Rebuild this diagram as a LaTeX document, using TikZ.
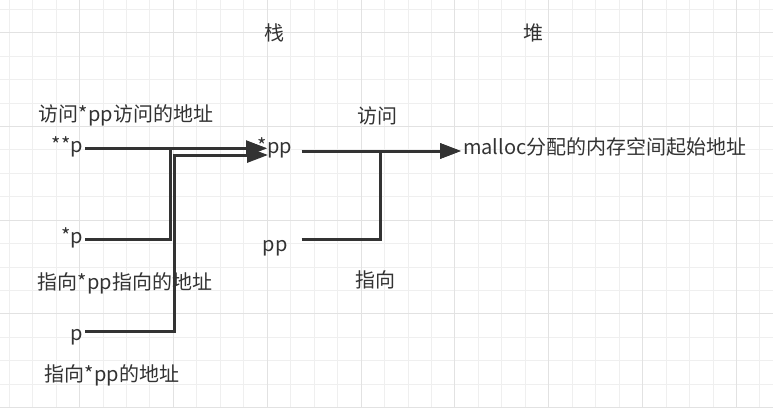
\documentclass[tikz,border=0pt]{standalone}
\usepackage{fontspec}
\setmainfont{Noto Sans CJK SC}
\usetikzlibrary{arrows.meta, positioning}
\definecolor{ink}{HTML}{333333}
\definecolor{gridminor}{HTML}{EFEFEF}
\definecolor{gridmajor}{HTML}{E2E2E2}

\begin{document}
\begin{tikzpicture}[x=1pt, y=-1pt,
		every node/.style={font=\fontsize{20}{24}\selectfont, text=ink, inner sep=2pt},
		ptr/.style={minimum width=53pt},
		wire/.style={line width=3pt, draw=ink, -{Triangle[length=21pt, width=15pt]}}]
				\useasboundingbox[fill=white] (0,0) rectangle (773,408);

				\foreach \i in {0,...,33}
				\draw[gridminor, line width=1pt] ({9.2+23.46*\i},0) -- ({9.2+23.46*\i},408);
				\foreach \j in {0,...,17}
				\draw[gridminor, line width=1pt] (0,{9.3+23.43*\j}) -- (773,{9.3+23.43*\j});
				\foreach \i in {3,7,...,31}
				\draw[gridmajor, line width=1pt] ({9.2+23.46*\i},0) -- ({9.2+23.46*\i},408);
				\foreach \j in {1,5,...,17}
				\draw[gridmajor, line width=1pt] (0,{9.3+23.43*\j}) -- (773,{9.3+23.43*\j});

				\node (stack) at (274,33) {栈};
				\node (heap) at (533,33) {堆};

				\node[anchor=east] (dp) at (85,147) {**p};
				\node[anchor=east] (sp) at (85,238) {*p};
				\node[anchor=east] (p) at (85,337) {p};
				\node (dpnote) at (126,115) {访问*pp访问的地址};
				\node (spnote) at (125,283) {指向*pp指向的地址};
				\node (pnote) at (112,375) {指向*pp的地址};

				\node[ptr] (spp) at (275,148) {*pp};
				\node[ptr] (pp) at (275,248) {pp};
				\node (readnote) at (377,116) {访问};
				\node (pointnote) at (375,280) {指向};
				\node[anchor=west] (mem) at (461,147) {malloc分配的内存空间起始地址};

				\coordinate (in1) at (267,148.3);
				\coordinate (in2) at (268,155);
				\coordinate (bend1) at (170.7,239);
				\coordinate (bend2) at (174,331.7);
				\coordinate (bend3) at (380,239);
				\coordinate (out) at (mem.west |- 0,151);

				\draw[wire] (dp.east |- in1) -- (in1);
				\draw[wire] (sp.east |- bend1) -- (bend1) |- (in1);
				\draw[wire] (p.east |- bend2) -- (bend2) |- (in2);
				\draw[wire] (spp.east |- out) -- (out);
				\draw[wire] (pp.east |- bend3) -- (bend3) |- (out);
\end{tikzpicture}
\end{document}
